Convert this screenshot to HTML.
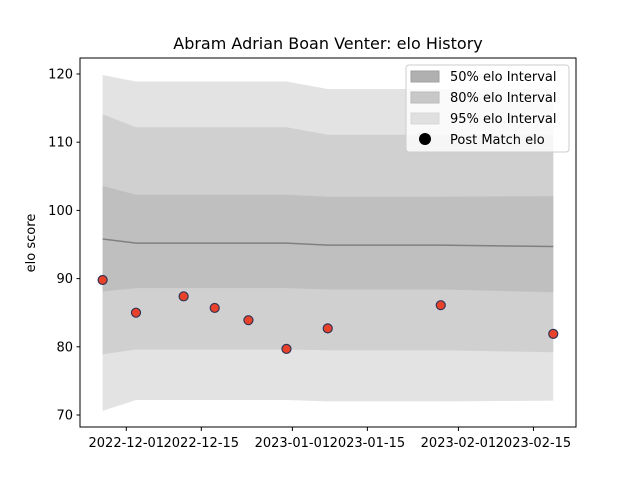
<!DOCTYPE html>
<html><head><meta charset="utf-8"><style>body{margin:0;background:#fff}svg{display:block;font-family:"DejaVu Sans","Liberation Sans",sans-serif}</style></head>
<body>
<svg id="chart" width="640" height="480" viewBox="0 0 640 480">
<rect width="640" height="480" fill="#fff"/>
<text x="328" y="49" text-anchor="middle" font-size="16">Abram Adrian Boan Venter: elo History</text>
<g id="plot"></g>
<rect x="80" y="58" width="496" height="369" fill="none" stroke="#000" stroke-width="1"/>
<g id="axes"></g>
<text transform="translate(35,243) rotate(-90)" text-anchor="middle" font-size="13">elo score</text>
<g>
<rect x="406" y="65" width="163" height="87" rx="3" fill="#fff" fill-opacity="0.8" stroke="#ccc"/>
<rect x="411" y="71" width="28" height="11" fill="#b0b0b0" stroke="#a0a0a0"/>
<text x="450" y="81" font-size="13">50% elo Interval</text>
<rect x="411" y="92" width="28" height="11" fill="#c8c8c8" stroke="#bbb"/>
<text x="450" y="102" font-size="13">80% elo Interval</text>
<rect x="411" y="113" width="28" height="11" fill="#e0e0e0" stroke="#d8d8d8"/>
<text x="450" y="123" font-size="13">95% elo Interval</text>
<circle cx="425" cy="139" r="6" fill="#000"/>
<text x="450" y="144" font-size="13">Post Match elo</text>
</g>
</svg>
<script>
const days = [-4.42, 1.81, 10.7, 16.5, 22.8, 29.9, 37.6, 58.7, 79.7];
const elo = [89.8, 85.0, 87.4, 85.7, 83.9, 79.7, 82.7, 86.1, 81.9];
const mean = [95.8, 95.2, 95.2, 95.2, 95.2, 95.2, 94.9, 94.9, 94.7];
const lo50 = [88.1, 88.6, 88.6, 88.6, 88.6, 88.6, 88.4, 88.4, 88.0];
const hi50 = [103.6, 102.3, 102.3, 102.3, 102.3, 102.3, 102.0, 102.0, 102.1];
const lo80 = [78.9, 79.6, 79.6, 79.6, 79.6, 79.6, 79.5, 79.5, 79.2];
const hi80 = [114.1, 112.2, 112.2, 112.2, 112.2, 112.2, 111.1, 111.1, 111.1];
const lo95 = [70.6, 72.2, 72.2, 72.2, 72.2, 72.2, 72.0, 72.0, 72.1];
const hi95 = [119.85, 118.9, 118.9, 118.9, 118.9, 118.9, 117.8, 117.8, 117.8];
const yTicks = [70, 80, 90, 100, 110, 120];
const xTickDays = [0, 14, 31, 45, 62, 76];
const xTickLabels = ["2022-12-01", "2022-12-15", "2023-01-01", "2023-01-15", "2023-02-01", "2023-02-15"];

const NS = "http://www.w3.org/2000/svg";
const X = d => 126.3 + d * 75 / 14;
const Y = v => 74 + (120 - v) * 6.82;
const plot = document.getElementById("plot");
const axes = document.getElementById("axes");
function mk(tag, attrs, parent) { const e = document.createElementNS(NS, tag); for (const k in attrs) e.setAttribute(k, attrs[k]); parent.appendChild(e); return e; }
function band(lo, hi, fill, name) {
  let d = "M" + days.map((t, i) => X(t) + "," + Y(hi[i])).join("L");
  d += "L" + days.map((t, i) => X(t) + "," + Y(lo[i])).reverse().join("L") + "Z";
  const p = mk("path", { d: d, fill: fill }, plot);
  
  
}
band(lo95, hi95, "#e3e3e3", "band-95");
band(lo80, hi80, "#d0d0d0", "band-80");
band(lo50, hi50, "#bfbfbf", "band-50");
const ml = mk("polyline", { points: days.map((t, i) => X(t) + "," + Y(mean[i])).join(" "), fill: "none", stroke: "#808080", "stroke-width": 1.5 }, plot);


days.forEach((t, i) => {
  const c = mk("circle", { cx: X(t), cy: Y(elo[i]), r: 4.5, fill: "#e8432a", stroke: "#333355", "stroke-width": 1.2 }, plot);
  
  
});
yTicks.forEach(v => {
  const y = Y(v);
  const l = mk("line", { x1: 76.5, x2: 80, y1: y, y2: y, stroke: "#000" }, axes);
  
  
  const t = mk("text", { x: 73, y: y + 4.5, "text-anchor": "end", "font-size": 13 }, axes);
  t.textContent = v;
  
  
});
xTickDays.forEach((d, i) => {
  const x = X(d);
  const l = mk("line", { x1: x, x2: x, y1: 427, y2: 431, stroke: "#000" }, axes);
  
  
  const t = mk("text", { x: x, y: 447, "text-anchor": "middle", "font-size": 13 }, axes);
  t.textContent = xTickLabels[i];
  
  
});
</script>
</body></html>
